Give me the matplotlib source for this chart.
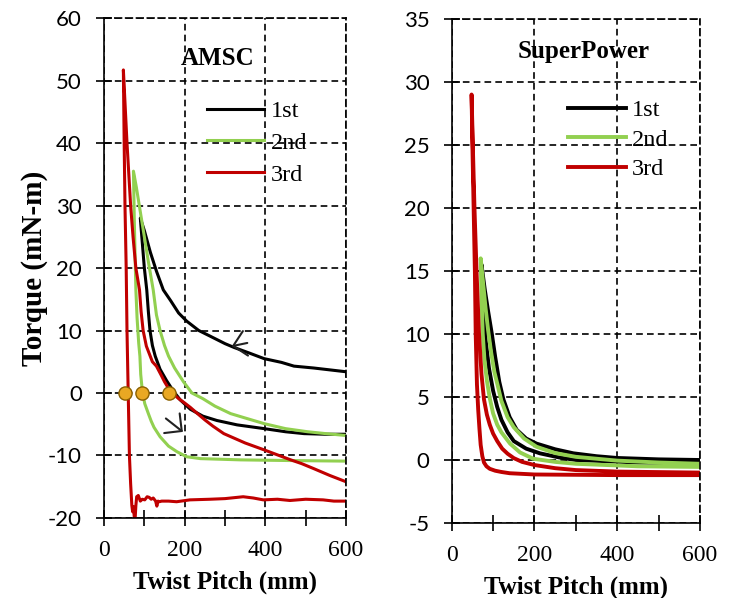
import matplotlib
matplotlib.use("Agg")
from matplotlib import pyplot as plt

plt.rcParams['font.family'] = ['Liberation Serif', 'DejaVu Serif']
plt.rcParams['axes.unicode_minus'] = False

BLACK = "#000000"
GREEN = "#92D050"
RED = "#C00000"

# ---- axis ticks ----
x_ticks = [0, 200, 400, 600]
x_minor = [100, 300, 500]
amsc_yticks = [-20, -10, 0, 10, 20, 30, 40, 50, 60]
sp_yticks = [-5, 0, 5, 10, 15, 20, 25, 30, 35]

# ---- AMSC (left panel), each trial drawn as one loop ----
amsc_1st_x = [600, 560, 520, 471, 440, 397, 360, 322, 300, 263, 235, 205, 185, 165, 147,
              130, 115, 100, 90, 95, 100, 106, 110, 114, 120, 127, 139, 155, 172, 189,
              214, 245, 280, 330, 397, 450, 496, 550, 600]
amsc_1st_y = [3.4, 3.7, 4.0, 4.3, 4.9, 5.5, 6.4, 7.3, 7.9, 9.1, 10.0, 11.5, 12.8, 14.8, 16.5,
              19.5, 22.5, 26.0, 28.0, 24.0, 20.0, 16.5, 13.0, 10.0, 7.6, 5.9, 3.8, 2.0, 0.3, -1.1,
              -2.6, -3.7, -4.4, -5.1, -5.7, -6.2, -6.5, -6.6, -6.6]

amsc_2nd_x = [600, 550, 505, 450, 397, 350, 314, 275, 245, 218, 197, 175, 160, 150, 139,
              130, 122, 110, 100, 90, 80, 73, 75, 79, 82, 86, 89, 91, 94, 96, 101, 110,
              117, 124, 139, 160, 181, 205, 239, 339, 450, 600]
amsc_2nd_y = [-6.8, -6.5, -6.2, -5.7, -4.9, -4.0, -3.3, -2.1, -0.9, 0.0, 1.8, 4.0, 5.9, 7.6, 10.0,
              12.5, 16.5, 21.0, 25.0, 29.0, 33.0, 35.5, 28.0, 16.5, 12.0, 8.0, 5.9, 3.0, 1.0, 0.0, -1.7, -3.3,
              -4.5, -5.5, -7.0, -8.5, -9.4, -10.2, -10.5, -10.7, -10.8, -10.9]

amsc_3rd_x = [600, 560, 520, 490, 463, 430, 397, 350, 297, 270, 250, 230, 214, 200, 185,
              164, 150, 143, 130, 120, 105, 97, 92, 88, 79, 72, 66, 57, 48,
              50, 52, 55, 57, 60, 63, 66, 69, 71, 73, 75, 77, 79, 81, 85, 90, 95, 101, 107,
              112, 117, 122, 128, 131, 134, 137, 143, 160, 180, 213, 263, 300, 345, 370, 395,
              430, 461, 500, 543, 570, 600]
amsc_3rd_y = [-14.2, -13.2, -12.1, -11.3, -10.7, -9.9, -9.1, -8.0, -6.5, -5.3, -4.3, -3.2, -2.3, -1.6, -0.9,
              0.3, 1.8, 2.7, 4.3, 5.0, 7.5, 10.0, 13.0, 16.5, 20.0, 25.0, 30.0, 40.0, 51.7,
              40.0, 30.0, 20.0, 10.0, 0.0, -10.0, -14.5, -18.0, -19.0, -18.2, -19.8, -20.3, -18.0, -16.6, -16.4, -17.3, -17.0, -17.1, -16.6,
              -16.7, -17.0, -16.8, -17.3, -18.1, -17.3, -17.4, -17.3, -17.3, -17.4, -17.1, -17.0, -16.9, -16.6, -16.8, -17.1,
              -17.0, -17.2, -17.0, -17.1, -17.3, -17.3]

zero_dots_x = [52, 95, 162]
zero_dots_y = [0, 0, 0]

# ---- SuperPower (right panel) ----
sp_1st_x = [600, 500, 400, 350, 294, 250, 205, 180, 157, 140, 125, 115, 105, 97, 88, 80, 72,
            76, 82, 90, 100, 110, 120, 135, 150, 180, 213, 260, 300, 450, 600]
sp_1st_y = [0.0, 0.05, 0.16, 0.3, 0.53, 0.85, 1.3, 1.7, 2.4, 3.4, 4.8, 6.2, 8.2, 10.0, 11.8, 13.5, 15.5,
            12.5, 9.5, 7.3, 5.5, 4.2, 3.2, 2.2, 1.5, 0.9, 0.53, 0.2, 0.0, -0.2, -0.25]

sp_2nd_x = [600, 500, 400, 300, 250, 205, 175, 150, 135, 120, 112, 103, 95, 88, 82, 76, 70,
            72, 75, 79, 85, 92, 100, 110, 120, 141, 165, 197, 250, 300, 450, 600]
sp_2nd_y = [-0.3, -0.2, -0.05, 0.25, 0.55, 1.05, 1.7, 2.6, 3.4, 4.7, 5.8, 7.0, 8.6, 10.3, 12.0, 14.0, 16.0,
            13.0, 10.0, 8.0, 6.3, 4.9, 3.7, 2.8, 2.2, 1.3, 0.6, 0.1, -0.15, -0.3, -0.5, -0.55]

sp_3rd_x = [600, 400, 300, 250, 200, 170, 150, 135, 122, 110, 100, 92, 85, 78, 72, 66, 60, 55, 51, 48,
            50, 53, 56, 58, 61, 64, 67, 70, 74, 78, 84, 92, 105, 120, 140, 200, 400, 600]
sp_3rd_y = [-1.0, -0.92, -0.8, -0.65, -0.4, -0.15, 0.15, 0.5, 0.9, 1.5, 2.1, 2.8, 3.6, 4.8, 6.8, 10.0, 15.0, 20.0, 25.0, 29.0,
            25.0, 20.0, 15.0, 10.0, 6.0, 4.0, 2.5, 1.2, 0.3, -0.2, -0.5, -0.7, -0.85, -0.95, -1.05, -1.15, -1.2, -1.2]

trial_names = ["1st", "2nd", "3rd"]

fig = plt.figure(figsize=(7.34, 5.98), dpi=100)
ax = fig.add_axes([0.1417, 0.1338, 0.3297, 0.836])
ax2 = fig.add_axes([0.6154, 0.1254, 0.3383, 0.843])


def style_axes(a, yticks):
    a.set_xlim(x_ticks[0], x_ticks[-1])
    a.set_ylim(yticks[0], yticks[-1])
    a.set_xticks(x_ticks)
    a.set_xticks(x_minor, minor=True)
    a.set_xticklabels([str(v) for v in x_ticks], fontfamily='Liberation Serif', fontsize=17)
    a.set_yticks(yticks)
    a.set_yticklabels([str(v) for v in yticks], fontfamily='Lato', fontsize=16)
    a.grid(True, which='major', color='black', linestyle=(0, (4, 2.5)), linewidth=1.2)
    for s in ['top', 'right']:
        a.spines[s].set_linestyle((0, (4, 2.5)))
        a.spines[s].set_linewidth(1.2)
    for s in ['left', 'bottom']:
        a.spines[s].set_linewidth(1.2)
    a.tick_params(axis='both', which='both', direction='inout', length=12, width=1.2)
    a.tick_params(axis='x', pad=10)
    a.tick_params(axis='y', pad=10)
    a.set_xlabel("Twist Pitch (mm)", fontsize=18, fontweight='bold', labelpad=7)


style_axes(ax, amsc_yticks)
style_axes(ax2, sp_yticks)

lw_left = 2.2
ax.plot(amsc_1st_x, amsc_1st_y, color=BLACK, lw=lw_left, label=trial_names[0])
ax.plot(amsc_2nd_x, amsc_2nd_y, color=GREEN, lw=lw_left, label=trial_names[1])
ax.plot(amsc_3rd_x, amsc_3rd_y, color=RED, lw=lw_left, label=trial_names[2])
ax.plot(zero_dots_x, zero_dots_y, 'o', ms=9.5, mfc='#E9A823', mec='#8A6000', mew=1.0, zorder=5)

# direction arrows
arrow_style = '->,head_length=0.45,head_width=0.45'
ax.annotate('', xy=(310, 7.4), xytext=(362, 8.1),
            arrowprops=dict(arrowstyle=arrow_style, lw=1.5, color='#222222', mutation_scale=20))
ax.annotate('', xy=(201, -6.5), xytext=(148, -3.8),
            arrowprops=dict(arrowstyle=arrow_style, lw=1.5, color='#222222', mutation_scale=20))

ax.text(0.471, 0.92, "AMSC", transform=ax.transAxes, ha='center', va='center',
        fontsize=18, fontweight='bold')
ax.set_ylabel("Torque (mN-m)", fontsize=21, fontweight='bold', labelpad=0)
ax.legend(loc='upper left', bbox_to_anchor=(0.427, 0.836), frameon=False, fontsize=17.5,
          handlelength=2.35, handletextpad=0.25, labelspacing=0.4, borderpad=0, borderaxespad=0)

lw_right = 2.8
ax2.plot(sp_1st_x, sp_1st_y, color=BLACK, lw=lw_right, label=trial_names[0])
ax2.plot(sp_2nd_x, sp_2nd_y, color=GREEN, lw=lw_right, label=trial_names[1])
ax2.plot(sp_3rd_x, sp_3rd_y, color=RED, lw=lw_right, label=trial_names[2])
ax2.text(0.532, 0.935, "SuperPower", transform=ax2.transAxes, ha='center', va='center',
         fontsize=18, fontweight='bold')
ax2.legend(loc='upper left', bbox_to_anchor=(0.47, 0.841), frameon=False, fontsize=17.5,
           handlelength=2.35, handletextpad=0.25, labelspacing=0.31, borderpad=0, borderaxespad=0)

fig.savefig("out.png", dpi=100)
